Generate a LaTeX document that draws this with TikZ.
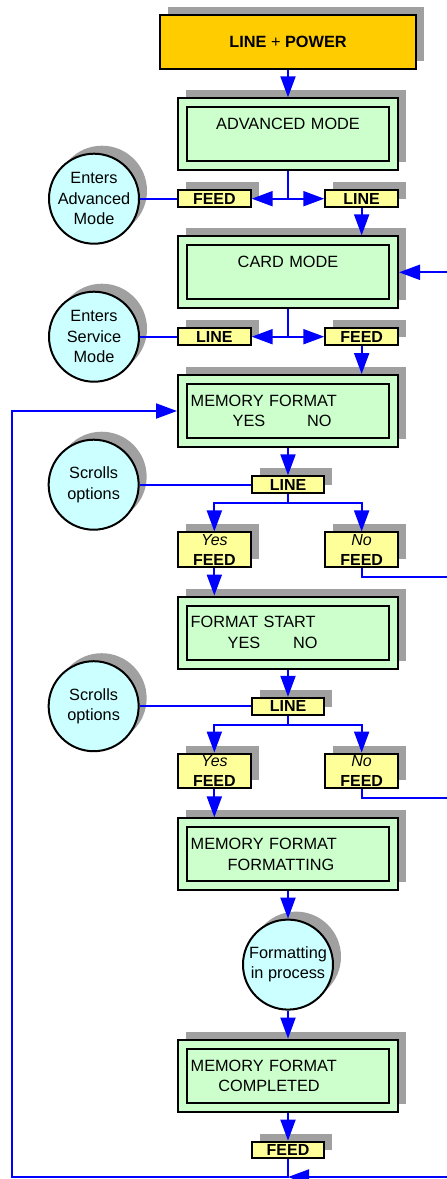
\documentclass[tikz,border=0pt]{standalone}
\usepackage{fontspec}
\setmainfont{Liberation Sans}
\usepackage{xcolor}
\usepackage{tikz}
\usetikzlibrary{positioning}
\usetikzlibrary{arrows.meta}
\usetikzlibrary{shadows}
\definecolor{powerfill}{HTML}{FFCC00}
\definecolor{lcdfill}{HTML}{CCFFCC}
\definecolor{notefill}{HTML}{CCFFFF}
\definecolor{keyfill}{HTML}{FFFF99}
\definecolor{shadowgray}{HTML}{A0A0A0}
\tikzset{flow edge/.style = {->,> = {Triangle[length=21pt,width=15pt]},draw=blue,line width=2pt}}
\tikzset{flow line/.style = {draw=blue,line width=2pt}}

\begin{document}
\begin{tikzpicture}[x=1pt,y=-1pt,node distance=27.3pt,font=\fontsize{16.3}{20.3}\selectfont,
    box shadow/.style={drop shadow={shadow xshift=8pt,shadow yshift=8pt,fill=shadowgray,opacity=1}},
    power node/.style={rectangle,draw,line width=2pt,fill=powerfill,minimum width=256pt,minimum height=54pt,box shadow},
    lcd node/.style={rectangle,draw,line width=2pt,fill=lcdfill,minimum height=72pt,text width=194.6pt,inner xsep=12.7pt,align=left,box shadow},
    key node/.style={rectangle,draw,line width=2pt,fill=keyfill,minimum width=72.7pt,minimum height=16.8pt,inner sep=0pt,align=center,font=\fontsize{16}{20}\selectfont\bfseries,box shadow},
    note node/.style={circle,draw,line width=2pt,fill=notefill,minimum size=90pt,inner sep=0pt,align=center,box shadow},
    lcd frame/.style={draw,line width=2pt}]
                    \useasboundingbox (0,0) rectangle (447,1179);
                    \clip (0,0) rectangle (447,1179);

                    \node[power node] (power) at (288,42) {\textbf{LINE} + \textbf{POWER}};
                    \node[lcd node,align=center] (adv) [below=of power] {ADVANCED MODE\\~};
                    \node[key node] (feedA) [below right=18pt and 0pt of adv.south west] {FEED};
                    \node[key node] (lineA) [below left=18pt and 0pt of adv.south east] {LINE};
                    \node[note node] (advnote) [left=37pt of feedA] {Enters\\Advanced\\Mode};

                    \node[lcd node,align=center] (card) [below=64pt of adv] {CARD MODE\\~};
                    \node[key node] (lineB) [below right=18pt and 0pt of card.south west] {LINE};
                    \node[key node] (feedB) [below left=18pt and 0pt of card.south east] {FEED};
                    \node[note node] (servnote) [left=37pt of lineB] {Enters\\Service\\Mode};

                    \node[lcd node] (memA) [below=64.7pt of card] {MEMORY FORMAT\\\hspace*{42pt}YES\hspace{41.7pt}NO};
                    \node[key node] (selA) [below=of memA] {LINE};
                    \node[note node] (scrollA) [left=111pt of selA] {Scrolls\\options};
                    \node[key node,minimum height=34.6pt] (yesA) [below right=83.4pt and 0pt of memA.south west] {{\mdseries\itshape Yes}\\FEED};
                    \node[key node,minimum height=34.6pt] (noA) [below left=83.4pt and 0pt of memA.south east] {{\mdseries\itshape No}\\FEED};

                    \node[lcd node] (fmt) [below=101.4pt of selA] {FORMAT START\\\hspace*{37pt}YES\hspace{32.7pt}NO};
                    \node[key node] (selB) [below=of fmt] {LINE};
                    \node[note node] (scrollB) [left=111pt of selB] {Scrolls\\options};
                    \node[key node,minimum height=34.6pt] (yesB) [below right=83pt and 0pt of fmt.south west] {{\mdseries\itshape Yes}\\FEED};
                    \node[key node,minimum height=34.6pt] (noB) [below left=83pt and 0pt of fmt.south east] {{\mdseries\itshape No}\\FEED};

                    \node[lcd node] (memB) [below=101.7pt of selB] {MEMORY FORMAT\\\hspace*{37pt}FORMATTING};
                    \node[note node] (proc) [below=of memB] {Formatting\\in process};
                    \node[lcd node] (memC) [below=28pt of proc] {MEMORY FORMAT\\\hspace*{27.6pt}COMPLETED};
                    \node[key node] (feedC) [below=28pt of memC] {FEED};

                    \foreach \n in {adv,card,memA,fmt,memB,memC}
                        \draw[lcd frame] ([shift={(10,10)}]\n.north west) rectangle ([shift={(-10,-10)}]\n.south east);

                    \coordinate (bottomy) at (0,1177);
                    \coordinate (join) at (feedC |- bottomy);
                    \coordinate (leftx) at (11.7,0);
                    \coordinate (rightx) at (470,0);

                    \draw[flow edge] (power) -- (adv);
                    \draw[flow edge] (adv.south) |- (feedA);
                    \draw[flow edge] (adv.south) |- (lineA);
                    \draw[flow line] (advnote) -- (feedA);
                    \draw[flow edge] (lineA) -- (lineA |- card.north);
                    \draw[flow edge] (rightx |- card) -- (card);

                    \draw[flow edge] (card.south) |- (lineB);
                    \draw[flow edge] (card.south) |- (feedB);
                    \draw[flow line] (servnote) -- (lineB);
                    \draw[flow edge] (feedB) -- (feedB |- memA.north);

                    \draw[flow edge] (memA) -- (selA);
                    \draw[flow line] (scrollA) -- (selA);
                    \draw[flow edge] (selA.south) -- ++(0,9) -| (yesA.north);
                    \draw[flow edge] (selA.south) -- ++(0,9) -| (noA.north);
                    \draw[flow line] (noA.south) |- ++(110,9);
                    \draw[flow edge] (yesA) -- (yesA |- fmt.north);

                    \draw[flow edge] (fmt) -- (selB);
                    \draw[flow line] (scrollB) -- (selB);
                    \draw[flow edge] (selB.south) -- ++(0,9) -| (yesB.north);
                    \draw[flow edge] (selB.south) -- ++(0,9) -| (noB.north);
                    \draw[flow line] (noB.south) |- ++(110,9);
                    \draw[flow edge] (yesB) -- (yesB |- memB.north);

                    \draw[flow edge] (memB) -- (proc);
                    \draw[flow edge] (proc) -- (memC);
                    \draw[flow edge] (memC) -- (feedC);
                    \draw[flow edge] (feedC) -- (join) -| (leftx |- memA) -- (memA);
                    \draw[flow edge] (rightx |- join) -- (join);
                \end{tikzpicture}
\end{document}
